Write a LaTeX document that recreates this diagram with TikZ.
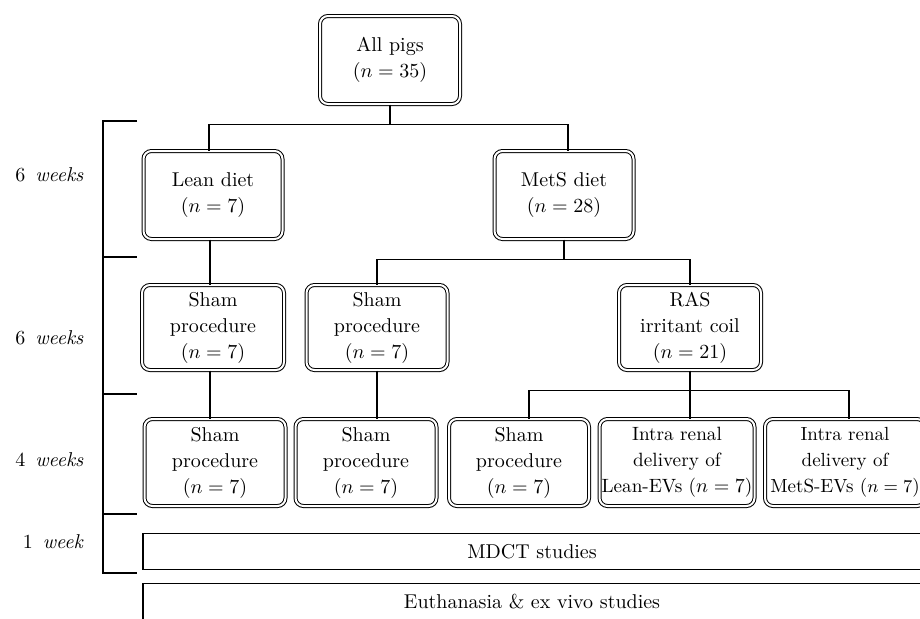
\documentclass[tikz,border=0pt]{standalone}
\usepackage{amsmath, amssymb}
\begin{document}
\begin{tikzpicture}[x = 0.5pt, y = -0.5pt]
	\tikzstyle{groupStyle}=[draw, double, double distance = 1pt, line width = 0.5pt, rounded corners = 4pt, align = center, inner sep = 0.5pt, font = \fontsize{10}{13}\selectfont]
	\tikzstyle{studyStyle}=[draw, line width = 0.6pt, minimum width = 389pt, minimum height = 18pt, font = \fontsize{10}{13}\selectfont]
	\tikzstyle{lineStyle}=[line width = 0.6pt]
	\tikzstyle{weekStyle}=[anchor = east, inner sep = 0pt, font = \fontsize{10}{13}\selectfont]
	\useasboundingbox (0,0) rectangle (920,618);
	% groups
	\node[groupStyle, minimum width = 70pt, minimum height = 44pt] (all) at (390,60) {All pigs\\($n = 35$)};
	\node[groupStyle, minimum width = 69.5pt, minimum height = 44pt] (lean) at (213,195) {Lean diet\\($n = 7$)};
	\node[groupStyle, minimum width = 69.5pt, minimum height = 44pt] (mets) at (564,195) {MetS diet\\($n = 28$)};
	\node[groupStyle, minimum width = 71pt, minimum height = 42.5pt] (sham1) at (213,327.5) {Sham\\procedure\\($n = 7$)};
	\node[groupStyle, minimum width = 70.5pt, minimum height = 42.5pt] (sham2) at (377,327.5) {Sham\\procedure\\($n = 7$)};
	\node[groupStyle, minimum width = 71pt, minimum height = 42.5pt] (ras) at (690,327.5) {RAS\\irritant coil\\($n = 21$)};
	\node[groupStyle, minimum width = 70.5pt, minimum height = 43.5pt] (leanSham) at (215,462.5) {Sham\\procedure\\($n = 7$)};
	\node[groupStyle, minimum width = 70.5pt, minimum height = 43.5pt] (metsSham) at (366,462.5) {Sham\\procedure\\($n = 7$)};
	\node[groupStyle, minimum width = 70pt, minimum height = 43.5pt] (rasSham) at (519,462.5) {Sham\\procedure\\($n = 7$)};
	\node[groupStyle, minimum width = 77.5pt, minimum height = 43.5pt, font = \fontsize{9.6}{13}\selectfont] (leanEv) at (677,462.5) {Intra renal\\delivery of\\Lean-EVs ($n = 7$)};
	\node[groupStyle, minimum width = 80pt, minimum height = 43.5pt, font = \fontsize{9.5}{13}\selectfont] (metsEv) at (845,462.5) {Intra renal\\delivery of\\MetS-EVs ($n = 7$)};
	% studies
	\node[studyStyle] (mdct) at (532,551.5) {MDCT studies};
	\node[studyStyle] (exvivo) at (532,601.5) {Euthanasia \& ex vivo studies};
	% tree
	\draw[lineStyle] (all.south) -- ++(0,20) coordinate (allBar);
	\draw[lineStyle] ([xshift = -2pt]lean.north) |- (allBar) -| ([xshift = 2pt]mets.north);
	\draw[lineStyle] ([xshift = -1.5pt]lean.south) -- ([xshift = -1.5pt]lean.south |- sham1.north);
	\draw[lineStyle] ([xshift = -1.5pt]sham1.south) -- ([xshift = -1.5pt]sham1.south |- leanSham.north);
	\draw[lineStyle] (mets.south) -- ++(0,20) coordinate (metsBar);
	\draw[lineStyle] (sham2.north) |- (metsBar) -| (ras.north);
	\draw[lineStyle] (sham2.south) -- (sham2.south |- metsSham.north);
	\draw[lineStyle] (ras.south) -- ++(0,20) coordinate (rasBar);
	\draw[lineStyle] (rasBar) -- (rasBar |- leanEv.north);
	\draw[lineStyle] ([xshift = 5pt]rasSham.north) |- (rasBar) -| ([xshift = 2pt]metsEv.north);
	% timeline
	\draw[lineStyle] (137,121) -- (103,121) -- (103,573) -- (137,573);
	\foreach \y in {257, 394, 514}
		\draw[lineStyle] (103,\y) -- (137,\y);
	\node[weekStyle] (week1) at (84,175) {6\enspace\textit{weeks}};
	\node[weekStyle] (week2) at (84,338) {6\enspace\textit{weeks}};
	\node[weekStyle] (week3) at (84,460) {4\enspace\textit{weeks}};
	\node[weekStyle] (week4) at (84,542) {1\enspace\textit{week}};
\end{tikzpicture}
\end{document}
